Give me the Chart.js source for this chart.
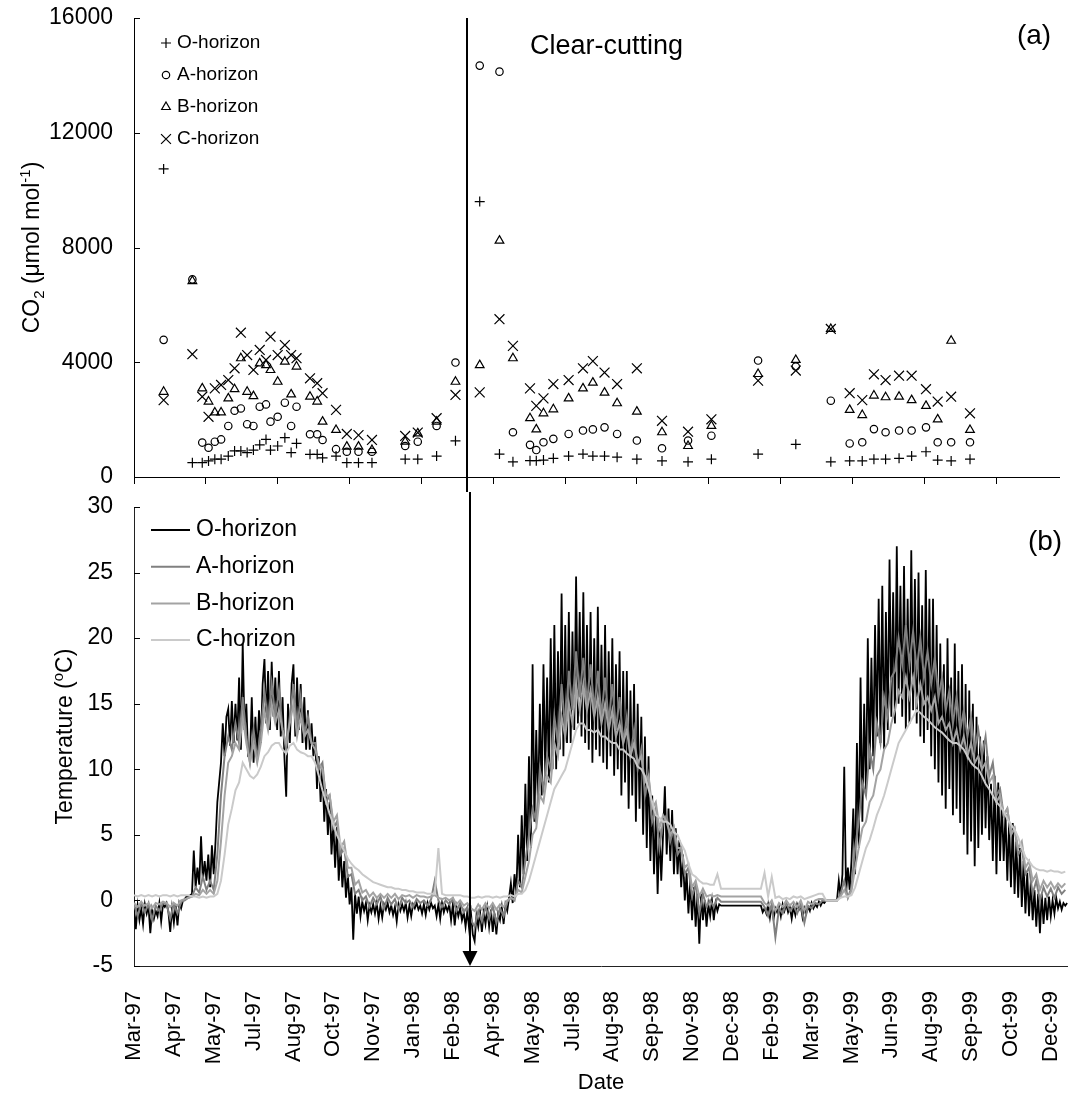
<!DOCTYPE html>
<html>
<head>
<meta charset="utf-8">
<title>Soil CO2 and temperature</title>
<script src="https://cdn.jsdelivr.net/npm/chart.js@4.4.1/dist/chart.umd.min.js"></script>
<style>
  html, body { margin: 0; padding: 0; background: #fff; }
  #wrap { position: relative; width: 1068px; height: 1097px; }
  #co2Box { position: absolute; left: 0; top: 0; width: 1068px; height: 492px; }
  #tempBox { position: absolute; left: 0; top: 492px; width: 1068px; height: 605px; }
</style>
</head>
<body>
<div id="wrap">
  <div id="co2Box"><canvas id="co2Chart"></canvas></div>
  <div id="tempBox"><canvas id="tempChart"></canvas></div>
</div>
<script>
// x values are days counted from 4 Mar 1997
const AXIS_MAX_DAY = 1031;
const CLEAR_CUT_DAY = 371;

const dateLabels = ['Mar-97', 'Apr-97', 'May-97', 'Jul-97', 'Aug-97', 'Oct-97', 'Nov-97', 'Jan-98',
  'Feb-98', 'Apr-98', 'May-98', 'Jul-98', 'Aug-98', 'Sep-98', 'Nov-98', 'Dec-98',
  'Feb-99', 'Mar-99', 'May-99', 'Jun-99', 'Aug-99', 'Sep-99', 'Oct-99', 'Dec-99'];
const dateTickDays = [0, 44, 88, 132, 176, 220, 264, 308, 352, 396, 440, 484,
  528, 572, 616, 660, 704, 748, 792, 836, 880, 924, 968, 1012];
const co2TickDays = [0, 80, 160, 240, 320, 400, 480, 560, 640, 720, 800, 880, 960];
const horizons = ['O-horizon', 'A-horizon', 'B-horizon', 'C-horizon'];

// soil-air CO2 sampling dates and concentrations (umol/mol)
const co2Days = [33, 65, 76, 83, 90, 97, 105, 112, 119, 126, 133, 140, 147, 152, 160, 168, 175, 181,
  196, 204, 210, 225, 237, 250, 265, 302, 316, 337, 358,
  385, 407, 422, 441, 448, 456, 467, 484, 500, 511, 524, 538, 560, 588, 617, 643, 695, 737,
  776, 797, 811, 824, 837, 852, 866, 882, 895, 910, 931];
const co2O = [10740, 500, 500, 560, 620, 620, 730, 910, 910, 850, 940, 1120, 1310, 940, 1080, 1370, 850, 1170,
  790, 790, 670, 730, 500, 500, 500, 620, 620, 730, 1260,
  9600, 800, 530, 570, 570, 590, 650, 730, 800, 730, 730, 690, 620, 560, 530, 620, 800, 1140,
  530, 560, 560, 620, 620, 650, 730, 880, 590, 560, 620];
const co2A = [4780, 6890, 1200, 1020, 1230, 1310, 1780, 2310, 2390, 1840, 1780, 2450, 2530, 1930, 2100, 2590, 1780, 2450,
  1490, 1490, 1290, 970, 880, 880, 880, 1080, 1230, 1780, 3990,
  14340, 14130, 1560, 1120, 940, 1210, 1330, 1500, 1620, 1660, 1730, 1500, 1270, 1000, 1270, 1440, 4060, 3850,
  2660, 1170, 1210, 1670, 1560, 1620, 1620, 1730, 1210, 1210, 1210];
const co2B = [2970, 6830, 3090, 2630, 2250, 2250, 2740, 3060, 4140, 2970, 2820, 3960, 3900, 3730, 3320, 4020, 2880, 3850,
  2800, 2630, 1930, 1640, 1060, 1060, 940, 1230, 1520, 1930, 3320,
  3900, 8240, 4140, 2050, 1660, 2220, 2360, 2740, 3090, 3290, 2940, 2570, 2280, 1560, 1080, 1780, 3590, 4080,
  5160, 2340, 2160, 2840, 2780, 2800, 2680, 2480, 2010, 4750, 1640];
const co2C = [2680, 4280, 2800, 2100, 3090, 3210, 3380, 3790, 5030, 4250, 3730, 4430, 4080, 4890, 4250, 4600, 4250, 4140,
  3440, 3270, 2920, 2340, 1500, 1460, 1290, 1430, 1550, 2050, 2860,
  2950, 5500, 4570, 3090, 2480, 2740, 3240, 3380, 3790, 4040, 3640, 3240, 3790, 1960, 1580, 2010, 3360, 3710,
  5160, 2920, 2680, 3580, 3380, 3530, 3530, 3060, 2630, 2800, 2220];

// soil temperature (deg C); O-horizon read every 2 days, deeper horizons every 4 days;
// null = logger gap
const TEMP_STEP_O = 2;
const TEMP_STEP = 4;
const tempO = [
  -0.5, -2.2, -0.4, -1.5, -0.6, -1.8, -0.3, -1.0, -0.4, -2.5, -0.7, -1.4, -0.8, -1.2, -0.2, -1.6, -0.3, -0.5, -0.2, -0.9,
  -2.4, -0.6, -1.7, -0.4, -1.9, -0.2, -0.6, 0.0, 0.1, 0.3, 0.2, 0.4, 0.5, 3.8, 1.0, 2.5, 1.2, 4.9, 1.5, 3.0,
  1.5, 3.5, 1.0, 4.2, 2.0, 4.5, 7.5, 9.0, 10.5, 13.5, 11.0, 14.0, 14.6, 11.8, 15.2, 12.0, 15.0, 12.2, 17.0, 11.5,
  19.6, 13.0, 15.0, 11.0, 10.8, 15.5, 10.5, 14.0, 11.0, 14.5, 12.0, 16.5, 18.4, 13.5, 17.5, 13.0, 18.2, 14.0, 17.0, 13.0,
  17.5, 12.5, 15.5, 11.0, 7.9, 15.0, 12.0, 16.5, 18.0, 12.5, 17.0, 13.0, 16.5, 12.0, 15.5, 11.5, 14.5, 11.5, 13.5, 11.0,
  12.5, 8.5, 11.0, 7.5, 10.2, 6.0, 8.5, 5.0, 7.5, 3.5, 6.0, 2.5, 5.6, 1.5, 4.0, 1.0, 3.0, 0.2, 2.0, -0.3,
  1.0, -3.0, 0.5, -1.0, 0.3, -1.2, -0.1, -0.8, -0.2, -1.5, -0.4, -0.9, -0.3, -1.0, -0.2, -1.4, -0.4, -1.3, -0.3, -0.7,
  -0.2, -0.9, -0.4, -1.1, -0.5, -1.6, -0.3, -0.8, -0.3, -0.8, -0.2, -1.3, -0.4, -1.2, -0.3, -0.6, -0.2, -0.7, -0.4, -1.0,
  -0.3, -1.1, -0.2, -0.7, -0.2, -0.6, -0.4, -1.2, -0.3, -1.4, -0.2, -0.9, -0.4, -0.8, -0.3, -1.5, -0.3, -1.9, -0.5, -1.2,
  -0.6, -1.5, -0.9, -2.0, -0.8, -2.2, -1.0, -2.6, -3.1, -1.2, -2.0, -0.9, -2.4, -0.9, -1.8, -0.6, -2.0, -0.7, -2.4, -1.0,
  -2.6, -1.0, -1.5, -0.5, -1.8, -0.3, -0.8, 0.2, 1.3, -0.2, 2.0, 0.5, 5.0, 1.0, 6.5, 2.0, 8.9, 3.0, 11.0, 4.0,
  18.0, 6.0, 13.0, 7.0, 15.0, 8.0, 18.0, 9.5, 17.0, 9.0, 20.0, 10.0, 21.0, 10.0, 19.0, 11.5, 23.4, 11.0, 21.0, 12.0,
  22.0, 12.0, 20.5, 13.0, 24.7, 13.5, 22.0, 12.5, 23.5, 12.0, 21.0, 11.5, 22.0, 10.5, 20.0, 11.5, 22.4, 11.0, 19.5, 10.5,
  21.0, 10.0, 19.0, 11.0, 20.0, 9.5, 18.0, 10.0, 19.0, 8.0, 17.5, 9.0, 17.5, 7.0, 16.0, 8.0, 16.5, 6.0, 15.0, 7.0,
  14.0, 5.0, 12.5, 4.0, 11.0, 3.0, 8.0, 2.0, 6.5, 0.5, 5.5, 1.5, 5.0, 8.7, 3.5, 7.0, 3.0, 6.9, 2.0, 5.5,
  2.0, 4.6, 1.0, 3.5, 0.0, 2.1, -1.0, 1.5, -1.5, 1.0, -2.0, 0.5, -3.3, 0.5, -1.5, 0.0, -2.0, -0.3, -1.2, 0.0,
  -1.5, -0.2, -0.8, -0.3, -0.4, null, null, null, null, null, null, null, null, null, null, null, null, null, null, null,
  null, null, null, null, null, null, -0.4, -0.9, -0.6, -1.0, -0.3, -1.3, -0.4, -1.4, -0.6, -0.9, -0.5, -1.2, -0.3, -0.8,
  -0.3, -0.9, -0.5, -1.4, -0.5, -1.1, -0.3, -0.7, -0.4, -1.3, -0.6, -1.0, -0.5, -0.8, -0.2, -0.6, -0.3, -0.5, -0.1, -0.4,
  -0.1, -0.2, 0.0, 0.0, 0.0, 0.0, 0.0, 0.0, 0.0, 1.5, 0.3, 2.0, 10.2, 0.5, 2.5, 0.8, 3.0, 7.0, 2.0, 12.0,
  4.0, 17.0, 6.0, 15.0, 8.0, 20.0, 10.0, 18.5, 11.0, 21.0, 12.5, 23.0, 12.0, 24.0, 11.5, 22.0, 13.0, 26.0, 14.0, 23.5,
  13.5, 27.0, 15.0, 24.0, 14.0, 25.5, 13.0, 23.0, 13.5, 26.7, 14.5, 24.5, 13.5, 25.0, 12.5, 22.5, 12.0, 25.2, 13.0, 23.0,
  11.0, 23.0, 10.0, 21.0, 9.0, 19.6, 8.0, 18.0, 7.0, 20.0, 8.5, 17.0, 6.5, 19.6, 7.0, 17.5, 5.9, 18.0, 5.0, 16.5,
  3.5, 16.0, 4.5, 15.0, 2.6, 14.0, 4.0, 12.5, 5.0, 12.2, 5.5, 11.0, 4.6, 8.9, 3.0, 9.5, 2.0, 9.0, 3.0, 7.5,
  3.0, 6.6, 1.5, 6.0, 1.0, 5.9, 0.5, 4.5, 0.2, 4.0, -0.5, 3.0, -1.0, 2.1, -1.2, 1.5, -1.5, 0.8, -2.0, 0.5,
  -2.5, 0.5, -1.8, 0.2, -1.5, 0.3, -1.2, 0.0, -1.0, 0.2, -0.6, -0.1, -0.7, -0.2, -0.4, -0.2
];
const tempA = [
  -0.3, -1.2, -0.2, -0.9, -0.3, -1.5, -0.4, -0.8, -0.2, -0.3,
  -1.4, -0.3, -1.0, -0.1, 0.0, 0.2, 0.3, 1.0, 0.6, 1.8,
  0.8, 1.5, 0.8, 3.5, 8.0, 11.0, 12.5, 11.5, 13.5, 12.0,
  15.5, 12.5, 10.5, 13.0, 10.8, 13.0, 16.0, 13.5, 16.5, 14.0,
  16.0, 13.0, 11.5, 14.0, 16.5, 13.0, 15.5, 12.5, 14.0, 12.0,
  12.0, 10.0, 10.5, 7.5, 8.0, 5.5, 6.0, 3.5, 4.0, 1.8,
  2.0, 0.5, 0.8, 0.0, 0.3, -0.5, 0.2, -0.3, 0.3, -0.6,
  0.2, -0.3, 0.1, -0.7, 0.2, -0.2, 0.0, -0.5, 0.1, -0.2,
  0.0, -0.4, 0.1, 1.5, 0.0, -0.5, 0.0, -0.3, 0.1, -0.8,
  -0.2, -0.9, -0.5, -1.5, -2.0, -0.8, -1.6, -0.5, -1.4, -0.4,
  -1.7, -0.6, -1.2, -0.1, 0.2, 0.0, 1.5, 1.0, 3.0, 5.0,
  7.0, 6.0, 10.0, 8.5, 11.0, 10.0, 14.0, 12.0, 16.5, 13.0,
  17.5, 14.5, 19.0, 15.5, 18.5, 15.0, 18.0, 14.5, 17.5, 14.0,
  17.0, 13.5, 16.5, 13.0, 15.5, 12.0, 14.0, 11.0, 13.0, 10.0,
  11.5, 8.0, 9.5, 6.0, 7.0, 4.0, 6.0, 6.5, 4.5, 5.5,
  3.5, 4.0, 2.0, 2.5, 0.3, 1.2, -1.0, 0.5, -0.5, 0.0,
  -0.5, 0.2, -0.1, null, null, null, null, null, null, null,
  null, null, null, -0.1, -0.5, -1.2, -0.3, -2.8, -0.6, -1.0,
  -0.2, -0.8, -0.4, -1.0, -0.3, -1.7, -0.4, -0.6, -0.2, -0.3,
  0.0, 0.0, 0.0, 0.0, 0.0, 0.5, 1.5, 0.2, 1.0, 4.0,
  6.0, 9.0, 8.0, 11.5, 10.0, 13.5, 12.0, 15.5, 14.0, 17.0,
  17.5, 20.0, 18.0, 21.0, 18.0, 20.5, 17.5, 20.0, 17.0, 19.0,
  16.5, 18.5, 15.5, 17.0, 14.5, 16.0, 13.5, 15.5, 13.0, 14.5,
  12.5, 14.0, 11.5, 13.0, 11.0, 12.5, 9.5, 10.5, 8.0, 8.5,
  6.5, 7.0, 5.0, 5.5, 3.5, 4.0, 2.0, 2.5, 0.5, 1.5,
  0.0, 1.0, 0.3, 0.9, 0.2, 1.0, 0.5, 0.8
];
const tempB = [
  -0.2, -0.5, -0.1, -0.4, -0.2, -0.6, -0.2, -0.3, -0.1, -0.2,
  -0.5, -0.2, -0.4, 0.0, 0.1, 0.2, 0.3, 0.5, 0.4, 0.8,
  0.5, 0.8, 0.5, 1.5, 4.5, 8.0, 10.5, 11.0, 12.0, 11.5,
  14.0, 12.0, 10.5, 12.0, 10.5, 12.0, 14.5, 13.0, 15.0, 13.5,
  14.5, 13.0, 12.0, 13.5, 15.0, 12.5, 14.0, 12.5, 13.0, 12.0,
  11.5, 10.5, 10.0, 8.0, 8.0, 6.0, 6.5, 4.0, 4.5, 2.5,
  2.5, 1.2, 1.5, 0.6, 0.8, 0.3, 0.6, 0.2, 0.5, 0.2,
  0.5, 0.2, 0.5, 0.1, 0.4, 0.3, 0.4, 0.2, 0.4, 0.3,
  0.3, 0.2, 0.3, 0.4, 0.2, 0.1, 0.2, 0.0, 0.2, -0.3,
  0.0, -0.4, -0.2, -0.6, -0.8, -0.3, -0.7, -0.2, -0.6, -0.2,
  -0.7, -0.3, -0.5, 0.0, 0.2, 0.1, 0.8, 0.6, 1.8, 3.0,
  5.0, 5.5, 8.0, 7.5, 9.5, 9.0, 12.0, 11.0, 14.0, 12.5,
  15.0, 13.5, 16.5, 14.5, 16.5, 14.5, 16.0, 14.0, 15.5, 13.5,
  15.0, 13.0, 14.5, 12.5, 13.5, 12.0, 13.0, 11.0, 12.0, 10.5,
  11.0, 9.0, 9.5, 7.0, 7.5, 5.5, 6.5, 6.0, 5.0, 5.5,
  4.0, 4.0, 2.5, 2.8, 1.0, 1.5, 0.3, 0.9, 0.3, 0.4,
  0.3, 0.4, 0.3, null, null, null, null, null, null, null,
  null, null, null, 0.3, -0.2, -0.4, 0.0, -0.8, -0.2, -0.5,
  0.0, -0.4, -0.1, -0.5, 0.0, -0.8, -0.1, -0.3, 0.0, 0.1,
  0.1, 0.0, 0.0, 0.0, 0.0, 0.3, 0.8, 0.2, 0.7, 2.5,
  4.0, 5.5, 6.0, 7.5, 8.0, 9.5, 10.0, 11.5, 12.0, 13.5,
  14.5, 16.0, 15.5, 17.0, 15.5, 17.0, 15.0, 16.5, 15.0, 15.5,
  14.5, 15.5, 13.5, 14.0, 13.0, 13.5, 12.0, 13.0, 11.5, 12.5,
  11.0, 12.0, 10.5, 11.0, 10.0, 10.5, 9.0, 9.5, 7.5, 8.0,
  6.5, 7.0, 5.0, 5.5, 4.0, 4.5, 2.5, 3.0, 1.5, 2.0,
  0.8, 1.5, 1.0, 1.4, 0.9, 1.3, 1.0, 1.3
];
const tempC = [
  0.4, 0.3, 0.4, 0.3, 0.4, 0.3, 0.4, 0.3, 0.4, 0.4,
  0.3, 0.4, 0.3, 0.4, 0.4, 0.4, 0.3, 0.3, 0.2, 0.3,
  0.2, 0.3, 0.3, 0.5, 1.5, 3.5, 5.8, 7.0, 8.4, 9.0,
  10.5, 10.0, 9.5, 9.3, 9.6, 10.2, 11.0, 11.3, 11.8, 12.0,
  12.0, 11.5, 11.2, 11.8, 12.0, 11.5, 11.3, 11.2, 11.0, 11.0,
  10.5, 9.5, 8.4, 7.5, 6.6, 5.8, 5.0, 4.4, 3.8, 3.2,
  2.8, 2.5, 2.3, 2.0, 1.8, 1.6, 1.4, 1.3, 1.2, 1.1,
  1.0, 1.0, 0.9, 0.9, 0.8, 0.8, 0.7, 0.7, 0.6, 0.6,
  0.6, 0.5, 0.5, 0.5, 4.0, 0.5, 0.4, 0.4, 0.4, 0.4,
  0.4, 0.3, 0.3, 0.2, 0.2, 0.3, 0.2, 0.3, 0.3, 0.2,
  0.3, 0.2, 0.3, 0.3, 0.4, 0.3, 0.5, 0.5, 0.8, 1.5,
  2.5, 3.5, 4.5, 5.5, 6.5, 7.5, 8.5, 9.0, 9.5, 10.0,
  11.0, 12.0, 13.0, 13.5, 13.5, 13.0, 13.0, 12.8, 13.0, 12.5,
  12.5, 12.2, 12.0, 12.0, 11.5, 11.5, 11.2, 11.0, 10.8, 10.2,
  10.0, 9.5, 8.5, 7.5, 6.5, 6.3, 6.0, 6.0, 5.8, 5.2,
  5.0, 4.3, 3.8, 2.8, 2.0, 1.8, 1.5, 1.3, 1.3, 1.2,
  1.2, 2.0, 0.9, null, null, null, null, null, null, null,
  null, null, null, 0.9, 2.1, 0.3, 1.8, 0.2, 0.3, 0.1,
  0.2, 0.1, 0.3, 0.2, 0.3, 0.1, 0.2, 0.3, 0.4, 0.5,
  0.5, 0.0, 0.0, 0.0, 0.0, 0.2, 0.3, 0.3, 0.4, 1.0,
  2.0, 3.0, 4.0, 4.6, 5.5, 6.5, 7.2, 8.0, 9.0, 10.0,
  11.0, 12.0, 12.5, 13.0, 13.5, 14.0, 14.5, 14.3, 14.0, 13.8,
  13.5, 13.2, 13.0, 12.8, 12.5, 12.2, 12.0, 12.0, 11.8, 11.5,
  11.0, 10.5, 10.2, 10.0, 9.5, 8.9, 8.5, 8.0, 7.5, 7.2,
  6.8, 6.2, 5.8, 5.4, 4.8, 4.0, 3.3, 3.0, 2.6, 2.4,
  2.3, 2.3, 2.2, 2.3, 2.2, 2.2, 2.1, 2.2
];

const FONT = "'Liberation Sans', Arial, Helvetica, sans-serif";
Chart.defaults.font.family = FONT;
Chart.defaults.color = '#000';

// short tick marks pointing into the plot from the y axis
const innerTicks = {
  id: 'innerTicks',
  afterDraw(chart) {
    const { ctx, chartArea } = chart;
    const y = chart.scales.y;
    ctx.save();
    ctx.strokeStyle = '#000';
    ctx.lineWidth = 1;
    y.ticks.forEach(t => {
      const py = Math.round(y.getPixelForValue(t.value)) + 0.5;
      ctx.beginPath();
      ctx.moveTo(chartArea.left, py);
      ctx.lineTo(chartArea.left + 6, py);
      ctx.stroke();
    });
    ctx.restore();
  }
};

// vertical line marking the clear-cutting date
const clearCutLine = {
  id: 'clearCutLine',
  afterDatasetsDraw(chart, args, opts) {
    const { ctx, chartArea } = chart;
    const x = Math.round(chart.scales.x.getPixelForValue(CLEAR_CUT_DAY));
    ctx.save();
    ctx.strokeStyle = '#000';
    ctx.fillStyle = '#000';
    ctx.lineWidth = 2;
    ctx.beginPath();
    if (opts.arrow) {
      ctx.moveTo(x, 0);
      ctx.lineTo(x, chartArea.bottom - 12);
      ctx.stroke();
      ctx.beginPath();
      ctx.moveTo(x - 7.5, chartArea.bottom - 15);
      ctx.lineTo(x + 7.5, chartArea.bottom - 15);
      ctx.lineTo(x, chartArea.bottom);
      ctx.closePath();
      ctx.fill();
    } else {
      ctx.moveTo(x, chartArea.top);
      ctx.lineTo(x, chart.height);
      ctx.stroke();
    }
    if (opts.label) {
      ctx.font = '27px ' + FONT;
      ctx.textAlign = 'left';
      ctx.textBaseline = 'alphabetic';
      ctx.fillText(opts.label, x + 63, chartArea.top + 36);
    }
    ctx.restore();
  }
};

// rotated axis title with sub/superscript pieces
function drawVerticalTitle(ctx, parts, cx, cy, size) {
  const small = Math.round(size * 0.65);
  const fontFor = p => ((p.sub || p.sup) ? small : size) + 'px ' + FONT;
  let total = 0;
  parts.forEach(p => { ctx.font = fontFor(p); p.w = ctx.measureText(p.t).width; total += p.w; });
  ctx.save();
  ctx.translate(cx, cy);
  ctx.rotate(-Math.PI / 2);
  ctx.fillStyle = '#000';
  ctx.textBaseline = 'alphabetic';
  ctx.textAlign = 'left';
  let x = -total / 2;
  const base = size * 0.36;
  parts.forEach(p => {
    ctx.font = fontFor(p);
    const dy = p.sub ? size * 0.2 : (p.sup ? -size * 0.42 : 0);
    ctx.fillText(p.t, x, base + dy);
    x += p.w;
  });
  ctx.restore();
}

const panelText = {
  id: 'panelText',
  afterDraw(chart, args, opts) {
    const { ctx, chartArea } = chart;
    ctx.save();
    ctx.fillStyle = '#000';
    ctx.font = '28px ' + FONT;
    ctx.textAlign = 'center';
    ctx.textBaseline = 'middle';
    ctx.fillText(opts.tag, opts.tagX, opts.tagY);
    ctx.restore();
    drawVerticalTitle(ctx, opts.title, opts.titleX, (chartArea.top + chartArea.bottom) / 2, 23);
  }
};

// legend with the scatter markers, inside the upper panel
const markerLegend = {
  id: 'markerLegend',
  afterDraw(chart, args, opts) {
    const ctx = chart.ctx;
    ctx.save();
    chart.data.datasets.forEach((ds, i) => {
      const y = opts.top + i * opts.gap;
      ctx.strokeStyle = ds.pointBorderColor;
      ctx.fillStyle = 'rgba(0,0,0,0)';
      ctx.lineWidth = ds.pointBorderWidth;
      Chart.helpers.drawPoint(ctx, {
        pointStyle: ds.pointStyle, radius: ds.pointRadius,
        borderWidth: ds.pointBorderWidth, rotation: 0
      }, opts.markerX, y);
      ctx.fillStyle = '#000';
      ctx.font = opts.fontSize + 'px ' + FONT;
      ctx.textAlign = 'left';
      ctx.textBaseline = 'middle';
      ctx.fillText(ds.label, opts.textX, y);
    });
    ctx.restore();
  }
};

// legend with line samples, inside the lower panel
const lineLegend = {
  id: 'lineLegend',
  afterDraw(chart, args, opts) {
    const ctx = chart.ctx;
    ctx.save();
    chart.data.datasets.forEach((ds, i) => {
      const y = opts.top + i * opts.gap;
      ctx.strokeStyle = ds.borderColor;
      ctx.lineWidth = 2;
      ctx.beginPath();
      ctx.moveTo(opts.lineX0, y);
      ctx.lineTo(opts.lineX1, y);
      ctx.stroke();
      ctx.fillStyle = '#000';
      ctx.font = opts.fontSize + 'px ' + FONT;
      ctx.textAlign = 'left';
      ctx.textBaseline = 'middle';
      ctx.fillText(ds.label, opts.textX, y);
    });
    ctx.restore();
  }
};

function co2Dataset(label, values, style, radius) {
  return {
    label: label,
    data: co2Days.map((d, i) => ({ x: d, y: values[i] })),
    pointStyle: style,
    pointRadius: radius,
    pointHoverRadius: radius,
    pointBorderColor: '#000',
    pointBackgroundColor: 'rgba(0,0,0,0)',
    pointBorderWidth: 1.2
  };
}

function tempDataset(label, values, step, color, width, order) {
  return {
    label: label,
    data: values.map((v, i) => ({ x: i * step, y: v })),
    borderColor: color,
    borderWidth: width,
    pointRadius: 0,
    tension: 0,
    spanGaps: true,
    order: order
  };
}

// y axes: fixed width, and no extra vertical room for the end labels
function fixYAxis(s) {
  s.width = 134;
  s.paddingTop = 0;
  s.paddingBottom = 0;
}

new Chart(document.getElementById('co2Chart'), {
  type: 'scatter',
  data: {
    datasets: [
      co2Dataset(horizons[0], co2O, 'cross', 5),
      co2Dataset(horizons[1], co2A, 'circle', 3.7),
      co2Dataset(horizons[2], co2B, 'triangle', 5),
      co2Dataset(horizons[3], co2C, 'crossRot', 7)
    ]
  },
  options: {
    animation: false,
    responsive: true,
    maintainAspectRatio: false,
    layout: { padding: { top: 18, left: 0, right: 0, bottom: 0 } },
    plugins: {
      legend: { display: false },
      tooltip: { enabled: false },
      markerLegend: { top: 43, gap: 32, markerX: 166, textX: 177, fontSize: 19 },
      clearCutLine: { arrow: false, label: 'Clear-cutting' },
      panelText: {
        tag: '(a)', tagX: 1034, tagY: 36, titleX: 31,
        title: [{ t: 'CO' }, { t: '2', sub: true }, { t: ' (\u03bcmol mol' }, { t: '-1', sup: true }, { t: ')' }]
      }
    },
    scales: {
      x: {
        type: 'linear',
        min: 0,
        max: AXIS_MAX_DAY,
        afterBuildTicks: s => { s.ticks = co2TickDays.map(v => ({ value: v })); },
        afterFit: s => { s.height = 15; s.paddingLeft = 0; s.paddingRight = 0; },
        grid: { display: true, drawOnChartArea: false, drawTicks: true, tickLength: 7, color: '#000', lineWidth: 1 },
        border: { display: true, color: '#000', width: 1 },
        ticks: { display: false }
      },
      y: {
        min: 0,
        max: 16000,
        afterFit: fixYAxis,
        ticks: { stepSize: 4000, padding: 21, color: '#000', font: { size: 23 }, callback: v => String(v) },
        grid: { display: false, drawTicks: false },
        border: { display: true, color: '#000', width: 1 }
      }
    }
  },
  plugins: [innerTicks, clearCutLine, markerLegend, panelText]
});

new Chart(document.getElementById('tempChart'), {
  type: 'line',
  data: {
    datasets: [
      tempDataset(horizons[0], tempO, TEMP_STEP_O, '#000000', 1.8, 4),
      tempDataset(horizons[1], tempA, TEMP_STEP, '#808080', 2, 3),
      tempDataset(horizons[2], tempB, TEMP_STEP, '#a3a3a3', 2, 2),
      tempDataset(horizons[3], tempC, TEMP_STEP, '#cacaca', 2, 1)
    ]
  },
  options: {
    animation: false,
    responsive: true,
    maintainAspectRatio: false,
    layout: { padding: { top: 15, left: 0, right: 0, bottom: 0 } },
    plugins: {
      legend: { display: false },
      tooltip: { enabled: false },
      lineLegend: { top: 38, gap: 36.7, lineX0: 151, lineX1: 190, textX: 196, fontSize: 23 },
      clearCutLine: { arrow: true },
      panelText: {
        tag: '(b)', tagX: 1045, tagY: 50, titleX: 64,
        title: [{ t: 'Temperature (' }, { t: 'o', sup: true }, { t: 'C)' }]
      }
    },
    scales: {
      x: {
        type: 'linear',
        min: 0,
        max: AXIS_MAX_DAY,
        afterBuildTicks: s => { s.ticks = dateTickDays.map(v => ({ value: v })); },
        afterFit: s => { s.height = 131; s.paddingLeft = 0; s.paddingRight = 0; },
        grid: { display: false },
        border: { display: true, color: '#222', width: 1 },
        ticks: {
          autoSkip: false, maxRotation: 90, minRotation: 90, padding: 17,
          color: '#000', font: { size: 22 },
          callback: (v, i) => dateLabels[i]
        },
        title: { display: true, text: 'Date', color: '#000', font: { size: 22 }, padding: { top: 0, bottom: 1 } }
      },
      y: {
        min: -5,
        max: 30,
        afterFit: fixYAxis,
        ticks: { stepSize: 5, padding: 21, color: '#000', font: { size: 23 } },
        grid: { display: false, drawTicks: false },
        border: { display: true, color: '#222', width: 1 }
      }
    }
  },
  plugins: [innerTicks, clearCutLine, lineLegend, panelText]
});
</script>
</body>
</html>
